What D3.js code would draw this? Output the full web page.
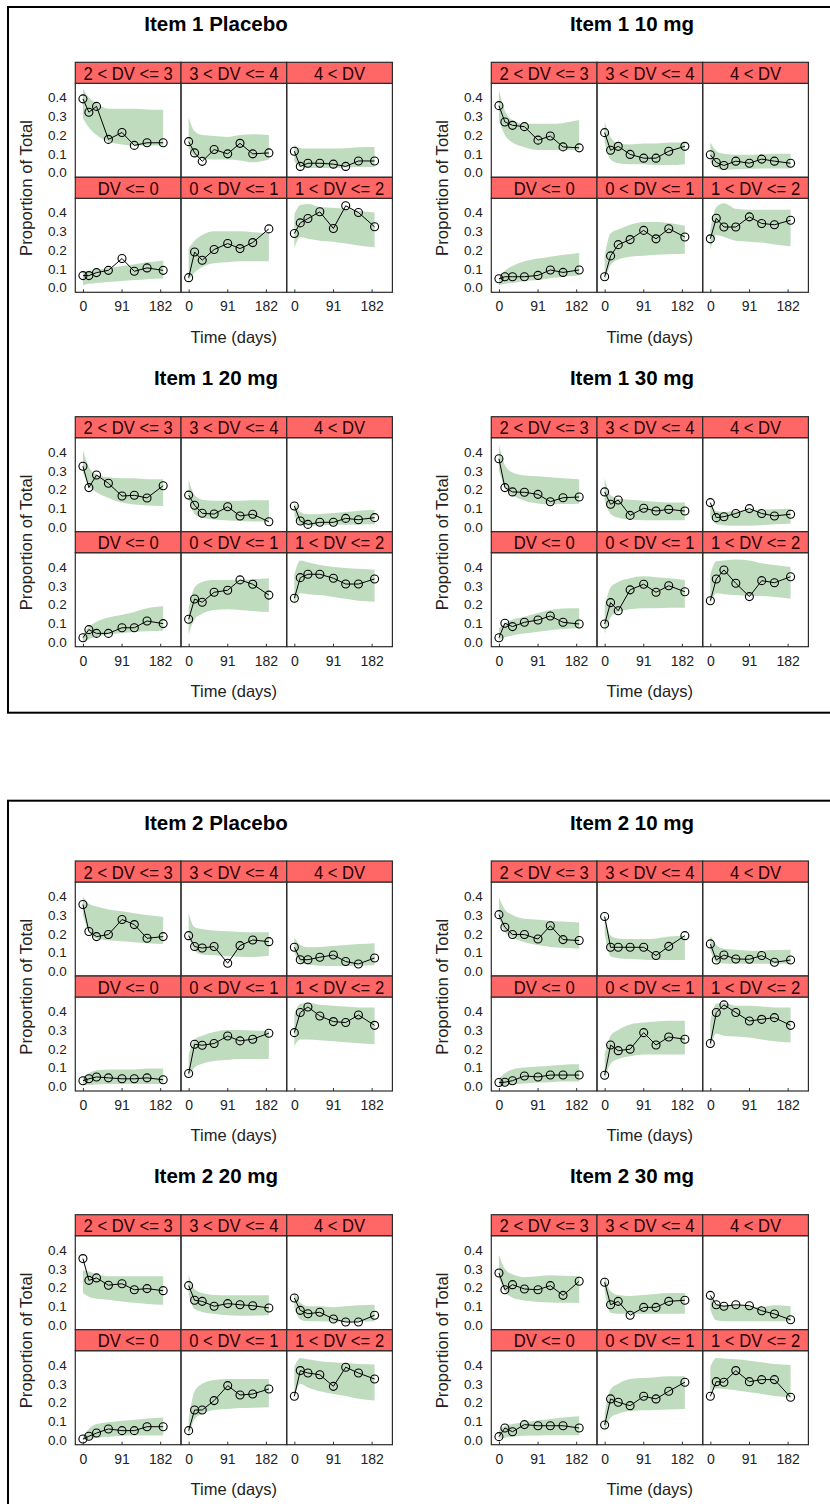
<!DOCTYPE html>
<html>
<head>
<meta charset="utf-8">
<script src="https://cdn.jsdelivr.net/npm/d3@7"></script>
<style>
  html, body { margin: 0; padding: 0; background: #fff; }
  svg { display: block; }
  text { font-family: "Liberation Sans", Arial, sans-serif; }
</style>
</head>
<body>
<svg id="chart" width="830" height="1504"></svg>
<script>
// Visit times (days) shared by all panels
const times = [0, 14, 32, 60, 92, 121, 151, 189];
// Response categories; order used by every data row below
const categories = ["DV <= 0", "0 < DV <= 1", "1 < DV <= 2", "2 < DV <= 3", "3 < DV <= 4", "4 < DV"];
// Panel grid: top row then bottom row, as indices into categories
const gridRows = [[3, 4, 5], [0, 1, 2]];
const xTicks = [0, 91, 182];
const yTicks = [0, 0.1, 0.2, 0.3, 0.4];

// ---- Item 1 Placebo ----
const i1PlaObs = [
  [0.064, 0.064, 0.080, 0.092, 0.155, 0.087, 0.105, 0.092],
  [0.053, 0.190, 0.146, 0.203, 0.235, 0.208, 0.240, 0.313],
  [0.288, 0.345, 0.368, 0.404, 0.315, 0.436, 0.400, 0.324],
  [0.393, 0.322, 0.353, 0.177, 0.214, 0.145, 0.159, 0.159],
  [0.165, 0.105, 0.060, 0.123, 0.100, 0.156, 0.100, 0.105],
  [0.114, 0.033, 0.050, 0.050, 0.045, 0.033, 0.062, 0.062]
];
const i1PlaLo = [
  [0.012, 0.020, 0.025, 0.030, 0.035, 0.040, 0.045, 0.048],
  [0.040, 0.080, 0.110, 0.130, 0.135, 0.140, 0.140, 0.140],
  [0.210, 0.270, 0.260, 0.250, 0.245, 0.235, 0.225, 0.215],
  [0.290, 0.240, 0.200, 0.165, 0.150, 0.145, 0.145, 0.145],
  [0.130, 0.090, 0.075, 0.070, 0.070, 0.065, 0.055, 0.070],
  [0.060, 0.030, 0.025, 0.025, 0.025, 0.027, 0.030, 0.030]
];
const i1PlaHi = [
  [0.085, 0.090, 0.095, 0.105, 0.115, 0.125, 0.135, 0.145],
  [0.210, 0.250, 0.280, 0.300, 0.300, 0.300, 0.295, 0.290],
  [0.390, 0.440, 0.445, 0.430, 0.425, 0.420, 0.410, 0.400],
  [0.445, 0.400, 0.370, 0.340, 0.340, 0.340, 0.336, 0.335],
  [0.295, 0.220, 0.200, 0.195, 0.190, 0.200, 0.205, 0.200],
  [0.147, 0.130, 0.128, 0.128, 0.128, 0.130, 0.135, 0.137]
];

// ---- Item 1 10 mg ----
const i1D10Obs = [
  [0.047, 0.058, 0.058, 0.058, 0.065, 0.094, 0.081, 0.094],
  [0.058, 0.169, 0.229, 0.256, 0.305, 0.260, 0.314, 0.270],
  [0.260, 0.370, 0.323, 0.323, 0.377, 0.342, 0.335, 0.359],
  [0.357, 0.270, 0.252, 0.245, 0.173, 0.195, 0.137, 0.132],
  [0.213, 0.119, 0.140, 0.097, 0.077, 0.077, 0.114, 0.140],
  [0.095, 0.054, 0.038, 0.061, 0.050, 0.072, 0.061, 0.050]
];
const i1D10Lo = [
  [0.012, 0.020, 0.025, 0.035, 0.040, 0.050, 0.058, 0.065],
  [0.030, 0.120, 0.150, 0.165, 0.170, 0.175, 0.178, 0.180],
  [0.200, 0.280, 0.270, 0.250, 0.245, 0.240, 0.230, 0.220],
  [0.280, 0.200, 0.160, 0.135, 0.120, 0.120, 0.120, 0.120],
  [0.160, 0.070, 0.050, 0.045, 0.045, 0.040, 0.040, 0.045],
  [0.060, 0.025, 0.015, 0.018, 0.020, 0.022, 0.022, 0.022]
];
const i1D10Hi = [
  [0.050, 0.090, 0.115, 0.140, 0.155, 0.165, 0.175, 0.185],
  [0.170, 0.290, 0.310, 0.335, 0.350, 0.350, 0.345, 0.330],
  [0.310, 0.430, 0.450, 0.420, 0.415, 0.415, 0.415, 0.415],
  [0.440, 0.330, 0.280, 0.260, 0.260, 0.260, 0.265, 0.280],
  [0.270, 0.190, 0.155, 0.150, 0.155, 0.155, 0.160, 0.160],
  [0.160, 0.115, 0.100, 0.095, 0.095, 0.097, 0.100, 0.100]
];

// ---- Item 1 20 mg ----
const i1D20Obs = [
  [0.023, 0.066, 0.046, 0.046, 0.076, 0.076, 0.112, 0.098],
  [0.121, 0.229, 0.212, 0.265, 0.276, 0.331, 0.308, 0.250],
  [0.233, 0.343, 0.361, 0.361, 0.340, 0.309, 0.309, 0.336],
  [0.324, 0.210, 0.277, 0.233, 0.165, 0.169, 0.155, 0.220],
  [0.170, 0.116, 0.073, 0.069, 0.108, 0.059, 0.068, 0.028],
  [0.112, 0.032, 0.014, 0.025, 0.025, 0.046, 0.039, 0.050]
];
const i1D20Lo = [
  [0.000, 0.015, 0.028, 0.040, 0.048, 0.053, 0.057, 0.060],
  [0.040, 0.120, 0.150, 0.170, 0.175, 0.170, 0.165, 0.160],
  [0.200, 0.260, 0.255, 0.250, 0.240, 0.230, 0.220, 0.215],
  [0.290, 0.220, 0.185, 0.155, 0.130, 0.120, 0.115, 0.112],
  [0.150, 0.070, 0.050, 0.040, 0.035, 0.032, 0.030, 0.030],
  [0.060, 0.015, 0.008, 0.010, 0.012, 0.012, 0.014, 0.015]
];
const i1D20Hi = [
  [0.037, 0.080, 0.108, 0.130, 0.145, 0.160, 0.180, 0.190],
  [0.180, 0.290, 0.320, 0.330, 0.330, 0.330, 0.335, 0.340],
  [0.360, 0.435, 0.425, 0.410, 0.400, 0.395, 0.390, 0.385],
  [0.410, 0.320, 0.280, 0.265, 0.260, 0.260, 0.255, 0.255],
  [0.250, 0.170, 0.145, 0.140, 0.140, 0.140, 0.142, 0.142],
  [0.130, 0.080, 0.068, 0.070, 0.075, 0.080, 0.087, 0.090]
];

// ---- Item 1 30 mg ----
const i1D30Obs = [
  [0.023, 0.100, 0.082, 0.105, 0.117, 0.139, 0.105, 0.096],
  [0.096, 0.210, 0.167, 0.278, 0.308, 0.265, 0.300, 0.268],
  [0.220, 0.336, 0.384, 0.313, 0.242, 0.327, 0.316, 0.348],
  [0.364, 0.210, 0.187, 0.185, 0.174, 0.135, 0.156, 0.160],
  [0.187, 0.121, 0.144, 0.062, 0.100, 0.085, 0.094, 0.085],
  [0.130, 0.050, 0.055, 0.072, 0.098, 0.072, 0.059, 0.068]
];
const i1D30Lo = [
  [0.010, 0.025, 0.035, 0.045, 0.055, 0.063, 0.070, 0.073],
  [0.040, 0.130, 0.160, 0.175, 0.180, 0.180, 0.182, 0.183],
  [0.200, 0.260, 0.255, 0.250, 0.245, 0.245, 0.240, 0.230],
  [0.300, 0.210, 0.170, 0.140, 0.125, 0.120, 0.122, 0.124],
  [0.140, 0.070, 0.050, 0.040, 0.036, 0.036, 0.036, 0.036],
  [0.060, 0.015, 0.010, 0.007, 0.007, 0.010, 0.015, 0.018]
];
const i1D30Hi = [
  [0.073, 0.100, 0.120, 0.135, 0.155, 0.170, 0.178, 0.180],
  [0.190, 0.290, 0.320, 0.340, 0.350, 0.345, 0.340, 0.330],
  [0.360, 0.430, 0.435, 0.440, 0.435, 0.420, 0.410, 0.400],
  [0.440, 0.330, 0.290, 0.275, 0.270, 0.265, 0.260, 0.255],
  [0.260, 0.170, 0.150, 0.145, 0.140, 0.135, 0.130, 0.130],
  [0.120, 0.085, 0.080, 0.085, 0.090, 0.093, 0.095, 0.097]
];

// ---- Item 2 Placebo ----
const i2PlaObs = [
  [0.030, 0.040, 0.050, 0.045, 0.040, 0.040, 0.045, 0.035],
  [0.068, 0.224, 0.219, 0.228, 0.268, 0.242, 0.251, 0.283],
  [0.286, 0.393, 0.423, 0.375, 0.345, 0.340, 0.380, 0.325],
  [0.356, 0.212, 0.185, 0.196, 0.276, 0.249, 0.176, 0.185],
  [0.190, 0.132, 0.124, 0.132, 0.043, 0.137, 0.167, 0.158],
  [0.128, 0.062, 0.062, 0.075, 0.087, 0.052, 0.039, 0.071]
];
const i2PlaLo = [
  [0.005, 0.008, 0.010, 0.012, 0.012, 0.012, 0.012, 0.012],
  [0.050, 0.100, 0.120, 0.135, 0.140, 0.145, 0.145, 0.145],
  [0.215, 0.250, 0.250, 0.245, 0.240, 0.235, 0.230, 0.224],
  [0.300, 0.210, 0.175, 0.165, 0.160, 0.155, 0.150, 0.146],
  [0.190, 0.110, 0.090, 0.085, 0.080, 0.078, 0.076, 0.083],
  [0.100, 0.045, 0.035, 0.030, 0.028, 0.028, 0.030, 0.032]
];
const i2PlaHi = [
  [0.050, 0.070, 0.085, 0.090, 0.090, 0.090, 0.095, 0.095],
  [0.170, 0.250, 0.270, 0.290, 0.300, 0.300, 0.298, 0.295],
  [0.385, 0.440, 0.445, 0.435, 0.430, 0.425, 0.420, 0.420],
  [0.400, 0.360, 0.345, 0.330, 0.320, 0.310, 0.300, 0.290],
  [0.310, 0.235, 0.225, 0.217, 0.213, 0.210, 0.208, 0.208],
  [0.180, 0.140, 0.128, 0.130, 0.135, 0.140, 0.145, 0.150]
];

// ---- Item 2 10 mg ----
const i2D10Obs = [
  [0.020, 0.022, 0.030, 0.055, 0.050, 0.060, 0.060, 0.060],
  [0.059, 0.220, 0.190, 0.198, 0.286, 0.220, 0.263, 0.251],
  [0.228, 0.393, 0.434, 0.393, 0.348, 0.357, 0.366, 0.325],
  [0.302, 0.235, 0.196, 0.196, 0.172, 0.243, 0.169, 0.164],
  [0.292, 0.128, 0.128, 0.128, 0.128, 0.084, 0.133, 0.190],
  [0.146, 0.060, 0.087, 0.066, 0.064, 0.084, 0.048, 0.060]
];
const i2D10Lo = [
  [0.000, 0.005, 0.010, 0.015, 0.020, 0.022, 0.025, 0.025],
  [0.030, 0.120, 0.145, 0.160, 0.170, 0.170, 0.170, 0.170],
  [0.200, 0.280, 0.270, 0.265, 0.260, 0.250, 0.240, 0.233],
  [0.280, 0.210, 0.180, 0.155, 0.140, 0.130, 0.125, 0.120],
  [0.200, 0.080, 0.070, 0.065, 0.062, 0.060, 0.060, 0.060],
  [0.110, 0.050, 0.042, 0.040, 0.040, 0.040, 0.040, 0.040]
];
const i2D10Hi = [
  [0.040, 0.070, 0.090, 0.100, 0.105, 0.110, 0.115, 0.117],
  [0.170, 0.270, 0.300, 0.330, 0.340, 0.345, 0.350, 0.350],
  [0.350, 0.440, 0.445, 0.430, 0.430, 0.425, 0.420, 0.420],
  [0.395, 0.330, 0.300, 0.280, 0.275, 0.270, 0.265, 0.260],
  [0.310, 0.190, 0.175, 0.172, 0.172, 0.175, 0.185, 0.190],
  [0.190, 0.140, 0.120, 0.115, 0.110, 0.110, 0.113, 0.115]
];

// ---- Item 2 20 mg ----
const i2D20Obs = [
  [0.005, 0.020, 0.037, 0.059, 0.050, 0.050, 0.071, 0.071],
  [0.050, 0.160, 0.160, 0.210, 0.290, 0.240, 0.245, 0.272],
  [0.233, 0.370, 0.357, 0.348, 0.286, 0.388, 0.357, 0.325],
  [0.354, 0.238, 0.251, 0.212, 0.220, 0.188, 0.194, 0.183],
  [0.210, 0.132, 0.126, 0.100, 0.114, 0.108, 0.103, 0.091],
  [0.144, 0.078, 0.060, 0.068, 0.032, 0.016, 0.016, 0.052]
];
const i2D20Lo = [
  [0.000, 0.005, 0.012, 0.018, 0.022, 0.024, 0.024, 0.024],
  [0.010, 0.110, 0.140, 0.160, 0.165, 0.170, 0.172, 0.174],
  [0.230, 0.300, 0.280, 0.260, 0.245, 0.235, 0.220, 0.210],
  [0.170, 0.150, 0.140, 0.135, 0.125, 0.118, 0.112, 0.108],
  [0.160, 0.085, 0.070, 0.060, 0.052, 0.050, 0.050, 0.052],
  [0.090, 0.030, 0.020, 0.020, 0.018, 0.018, 0.018, 0.020]
];
const i2D20Hi = [
  [0.015, 0.060, 0.085, 0.095, 0.103, 0.108, 0.115, 0.120],
  [0.110, 0.260, 0.300, 0.320, 0.325, 0.325, 0.325, 0.325],
  [0.390, 0.437, 0.430, 0.420, 0.414, 0.410, 0.405, 0.402],
  [0.290, 0.285, 0.270, 0.260, 0.260, 0.260, 0.260, 0.260],
  [0.270, 0.190, 0.170, 0.160, 0.158, 0.158, 0.158, 0.158],
  [0.180, 0.120, 0.100, 0.100, 0.095, 0.100, 0.105, 0.108]
];

// ---- Item 2 30 mg ----
const i2D30Obs = [
  [0.018, 0.064, 0.044, 0.082, 0.076, 0.076, 0.076, 0.064],
  [0.080, 0.219, 0.201, 0.183, 0.233, 0.219, 0.260, 0.308],
  [0.233, 0.311, 0.308, 0.370, 0.311, 0.322, 0.322, 0.228],
  [0.277, 0.188, 0.215, 0.192, 0.188, 0.210, 0.158, 0.233],
  [0.228, 0.108, 0.126, 0.052, 0.094, 0.094, 0.126, 0.132],
  [0.158, 0.108, 0.100, 0.108, 0.103, 0.076, 0.059, 0.028]
];
const i2D30Lo = [
  [0.005, 0.012, 0.018, 0.023, 0.024, 0.025, 0.025, 0.025],
  [0.040, 0.120, 0.140, 0.155, 0.158, 0.160, 0.163, 0.165],
  [0.260, 0.275, 0.272, 0.265, 0.254, 0.245, 0.235, 0.228],
  [0.250, 0.180, 0.145, 0.130, 0.123, 0.120, 0.118, 0.117],
  [0.180, 0.065, 0.060, 0.060, 0.060, 0.060, 0.060, 0.060],
  [0.080, 0.025, 0.020, 0.020, 0.020, 0.020, 0.020, 0.020]
];
const i2D30Hi = [
  [0.050, 0.075, 0.085, 0.095, 0.105, 0.112, 0.120, 0.126],
  [0.140, 0.270, 0.300, 0.325, 0.330, 0.335, 0.340, 0.340],
  [0.390, 0.437, 0.435, 0.430, 0.423, 0.415, 0.405, 0.400],
  [0.375, 0.300, 0.270, 0.255, 0.260, 0.265, 0.262, 0.260],
  [0.270, 0.180, 0.160, 0.155, 0.160, 0.165, 0.170, 0.170],
  [0.150, 0.115, 0.108, 0.105, 0.100, 0.095, 0.105, 0.100]
];

// Sub-figures: title, data and where each 2x3 grid sits (left edge, top of first strip)
const figures = [
  { title: "Item 1 Placebo", obs: i1PlaObs, lo: i1PlaLo, hi: i1PlaHi, left: 75.3, top: 62.3 },
  { title: "Item 1 10 mg",   obs: i1D10Obs, lo: i1D10Lo, hi: i1D10Hi, left: 491.3, top: 62.3 },
  { title: "Item 1 20 mg",   obs: i1D20Obs, lo: i1D20Lo, hi: i1D20Hi, left: 75.3, top: 416.7 },
  { title: "Item 1 30 mg",   obs: i1D30Obs, lo: i1D30Lo, hi: i1D30Hi, left: 491.3, top: 416.7 },
  { title: "Item 2 Placebo", obs: i2PlaObs, lo: i2PlaLo, hi: i2PlaHi, left: 75.3, top: 861 },
  { title: "Item 2 10 mg",   obs: i2D10Obs, lo: i2D10Lo, hi: i2D10Hi, left: 491.3, top: 861 },
  { title: "Item 2 20 mg",   obs: i2D20Obs, lo: i2D20Lo, hi: i2D20Hi, left: 75.3, top: 1214.7 },
  { title: "Item 2 30 mg",   obs: i2D30Obs, lo: i2D30Lo, hi: i2D30Hi, left: 491.3, top: 1214.7 }
];

const svg = d3.select("#chart");

// Outer frames around each item
const frames = [{ y: 7, h: 705.7 }, { y: 800.7, h: 706 }];
svg.selectAll("rect.frame").data(frames).join("rect")
  .attr("class", "frame")
  .attr("x", 8).attr("y", d => d.y)
  .attr("width", 830).attr("height", d => d.h)
  .attr("fill", "none").attr("stroke", "#000").attr("stroke-width", 2);

const colW = 105.7, stripH = 21, panelH = 94;
const stripFill = "#ff6666", bandFill = "#bfdcbf", frameCol = "#2b2b2b";

const x = d3.scaleLinear().domain([-18, 231]).range([0, colW]);
const y = d3.scaleLinear().domain([-0.025, 0.476]).range([panelH, 0]);

const area = d3.area()
  .x((d, i) => x(times[i]))
  .y0(d => y(d[0])).y1(d => y(d[1]))
  .curve(d3.curveMonotoneX);
const line = d3.line().x((d, i) => x(times[i])).y(d => y(d)).curve(d3.curveLinear);

figures.forEach(fig => {
  const g = svg.append("g").attr("transform", `translate(${fig.left},${fig.top})`);
  const totalW = colW * 3;

  g.append("text")
    .attr("x", 140.7).attr("y", -39)
    .attr("text-anchor", "middle").attr("dominant-baseline", "central")
    .attr("font-size", 20.5).attr("font-weight", "bold").attr("fill", "#000")
    .text(fig.title);

  g.append("text")
    .attr("transform", `translate(-49,${125.7}) rotate(-90)`)
    .attr("text-anchor", "middle").attr("dominant-baseline", "central")
    .attr("font-size", 16.8).attr("fill", "#222")
    .text("Proportion of Total");

  g.append("text")
    .attr("x", totalW / 2).attr("y", 274.4)
    .attr("text-anchor", "middle").attr("dominant-baseline", "central")
    .attr("font-size", 16.5).attr("fill", "#222")
    .text("Time (days)");

  gridRows.forEach((row, r) => {
    const rowTop = r * (stripH + panelH);
    const panelTop = rowTop + stripH;

    // y-axis tick labels on the left of each row
    const yAxis = d3.axisLeft(y).tickValues(yTicks).tickFormat(d3.format(".1f")).tickSize(0).tickPadding(8.6);
    const ya = g.append("g").attr("transform", `translate(0,${panelTop})`).call(yAxis);
    ya.select(".domain").remove();
    ya.selectAll("text").attr("font-size", 13.5).attr("fill", "#222")
      .attr("font-family", "Liberation Sans, Arial, sans-serif");

    row.forEach((ci, c) => {
      const px = c * colW;
      const pg = g.append("g").attr("transform", `translate(${px},${panelTop})`);

      // strip with category label (slightly condensed, as the device drew it)
      g.append("rect")
        .attr("x", px).attr("y", rowTop).attr("width", colW).attr("height", stripH)
        .attr("fill", stripFill).attr("stroke", frameCol).attr("stroke-width", 1.2);
      g.append("text")
        .attr("transform", `translate(${px + colW / 2},${rowTop + stripH / 2 + 0.8}) scale(0.9,1)`)
        .attr("text-anchor", "middle").attr("dominant-baseline", "central")
        .attr("font-size", 18.5).attr("fill", "#2a0000")
        .text(categories[ci]);

      // prediction interval band
      const band = fig.lo[ci].map((v, i) => [v, fig.hi[ci][i]]);
      pg.append("path").attr("d", area(band)).attr("fill", bandFill);

      // observed proportions
      pg.append("path").attr("d", line(fig.obs[ci]))
        .attr("fill", "none").attr("stroke", "#000").attr("stroke-width", 1);
      pg.selectAll("circle.pt").data(fig.obs[ci]).join("circle")
        .attr("class", "pt")
        .attr("cx", (d, i) => x(times[i])).attr("cy", d => y(d))
        .attr("r", 4)
        .attr("fill", "none").attr("stroke", "#000").attr("stroke-width", 1.1);

      // bottom row carries the time axis
      if (r === 1) {
        const xAxis = d3.axisBottom(x).tickValues(xTicks).tickSize(-3).tickPadding(9);
        const xa = pg.append("g").attr("transform", `translate(0,${panelH})`).call(xAxis);
        xa.select(".domain").remove();
        xa.selectAll("line").attr("stroke", "#333");
        xa.selectAll("text").attr("font-size", 14).attr("fill", "#222")
          .attr("font-family", "Liberation Sans, Arial, sans-serif");
      }

      // panel frame
      pg.append("rect").attr("width", colW).attr("height", panelH)
        .attr("fill", "none").attr("stroke", frameCol).attr("stroke-width", 1.2);
    });
  });
});
</script>
</body>
</html>
